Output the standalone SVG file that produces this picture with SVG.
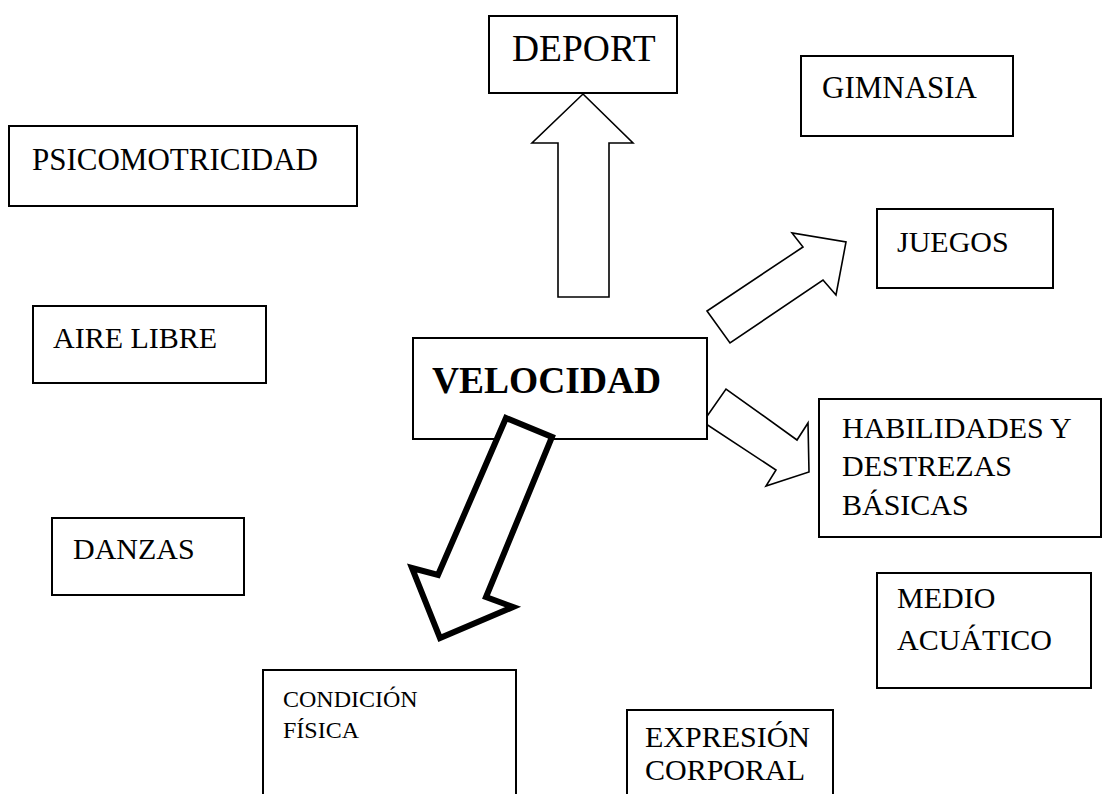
<svg xmlns="http://www.w3.org/2000/svg" width="1102" height="794" viewBox="0 0 1102 794">
<style>
.box{fill:#fff;stroke:#000;stroke-width:2}
.t{font-family:"Liberation Serif","Times New Roman",serif;font-size:30px;fill:#000}
.arr{fill:#fff;stroke:#000;stroke-width:1.6;stroke-linejoin:miter}
</style>
<rect width="1102" height="794" fill="#fff"/>
<g id="connectors">
<polygon class="arr" points="583,94 633,143 609,143 609,297 558,297 558,143 532,143"/>
<polygon class="arr" points="707,311 730,343 823,280 836,295 846,242 792,233 803,247"/>
<polygon class="arr" points="703,422 726,389 797,440 808,423 809,472 766,486 776,470"/>
</g>
<g id="velocidad"><rect class="box" x="413" y="338" width="294" height="101"/><text class="t" x="432" y="393" style="font-weight:bold;font-size:37.5px">VELOCIDAD</text></g>
<g id="thick-arrow"><polygon points="506,418 552,437 486,597 513,607 440,638 412,568 438,575" fill="#fff" stroke="#000" stroke-width="6" stroke-linejoin="miter"/></g>
<g id="deport"><rect class="box" x="489" y="16" width="188" height="77"/><text class="t" x="512" y="61" style="font-size:37.5px">DEPORT</text></g>
<g id="psicomotricidad"><rect class="box" x="9" y="126" width="348" height="80"/><text class="t" x="32" y="170" style="font-size:31px">PSICOMOTRICIDAD</text></g>
<g id="aire-libre"><rect class="box" x="33" y="306" width="233" height="77"/><text class="t" x="53" y="348">AIRE LIBRE</text></g>
<g id="danzas"><rect class="box" x="52" y="518" width="192" height="77"/><text class="t" x="73" y="559">DANZAS</text></g>
<g id="gimnasia"><rect class="box" x="801" y="56" width="212" height="80"/><text class="t" x="822" y="98" style="font-size:31px">GIMNASIA</text></g>
<g id="juegos"><rect class="box" x="877" y="209" width="176" height="79"/><text class="t" x="897" y="252">JUEGOS</text></g>
<g id="habilidades"><rect class="box" x="819" y="399" width="282" height="138"/><text class="t" x="842" y="438">HABILIDADES Y</text><text class="t" x="842" y="476">DESTREZAS</text><text class="t" x="842" y="515">BÁSICAS</text></g>
<g id="medio-acuatico"><rect class="box" x="877" y="573" width="214" height="115"/><text class="t" x="897" y="608">MEDIO</text><text class="t" x="897" y="650">ACUÁTICO</text></g>
<g id="condicion-fisica"><rect class="box" x="263" y="670" width="253" height="140"/><text class="t" x="283" y="707" style="font-size:24px">CONDICIÓN</text><text class="t" x="283" y="738" style="font-size:24px">FÍSICA</text></g>
<g id="expresion-corporal"><rect class="box" x="627" y="710" width="206" height="100"/><text class="t" x="645" y="747">EXPRESIÓN</text><text class="t" x="645" y="780">CORPORAL</text></g>
</svg>
